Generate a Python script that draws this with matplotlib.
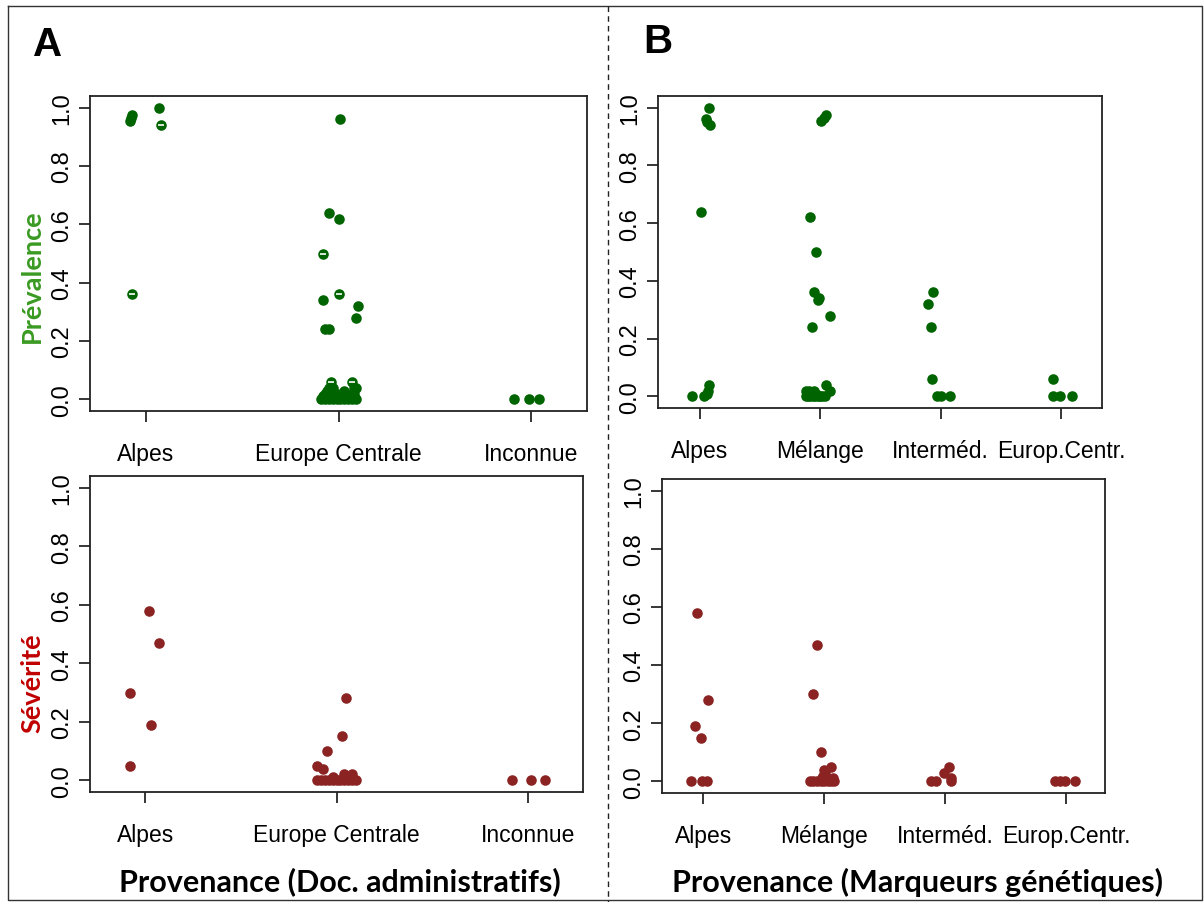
import matplotlib.pyplot as plt
from matplotlib.lines import Line2D

W, H = 1204, 903

# categories
admin_cats = ['Alpes', 'Europe Centrale', 'Inconnue']
genet_cats = ['Alpes', 'Mélange', 'Interméd.', 'Europ.Centr.']

# A - prevalence (doc. administratifs): jittered x position, value
admin_prev_x = [0.92, 0.925, 0.93, 1.07, 1.08, 0.93,
                2.01, 1.95, 2.0, 1.92, 2.0, 1.92, 2.1, 2.09, 1.93, 1.95, 1.96, 2.07, 2.08,
                1.91, 1.93, 1.95, 1.97, 1.99, 2.01, 2.03, 2.05, 2.07, 2.09,
                1.92, 1.96, 2.02, 2.06, 1.93, 1.99, 2.04, 2.08, 1.94, 2.03, 1.95, 1.97, 2.09,
                2.91, 2.99, 3.04]
admin_prev_y = [0.955, 0.965, 0.975, 1.0, 0.94, 0.36,
                0.96, 0.64, 0.62, 0.50, 0.36, 0.34, 0.32, 0.28, 0.24, 0.24, 0.06, 0.06, 0.04,
                0, 0, 0, 0, 0, 0, 0, 0, 0, 0,
                0.01, 0.01, 0.01, 0.01, 0.02, 0.02, 0.02, 0.02, 0.03, 0.03, 0.04, 0.04, 0.04,
                0, 0, 0]
# points showing a white dash in the original
admin_prev_dash_x = [1.08, 0.93, 1.92, 2.0, 1.96, 2.07]
admin_prev_dash_y = [0.94, 0.36, 0.50, 0.36, 0.06, 0.06]

# A - severite
admin_sev_x = [1.02, 1.07, 0.92, 1.03, 0.92,
               2.05, 2.03, 1.95, 1.90, 1.93, 2.04, 2.08, 2.08, 1.98,
               1.90, 1.92, 1.94, 1.96, 1.98, 2.00, 2.02, 2.04, 2.06, 2.08, 2.10,
               2.92, 3.02, 3.09]
admin_sev_y = [0.58, 0.47, 0.30, 0.19, 0.05,
               0.28, 0.15, 0.10, 0.05, 0.04, 0.02, 0.02, 0.01, 0.01,
               0, 0, 0, 0, 0, 0, 0, 0, 0, 0, 0,
               0, 0, 0]

# B - prevalence (marqueurs genetiques)
genet_prev_x = [1.08, 1.055, 1.06, 1.09, 1.01, 1.075, 1.07, 1.06, 1.04, 0.94,
                2.01, 2.03, 2.05, 1.92, 1.97, 1.95, 1.99, 1.98, 2.08, 1.93, 2.05, 2.08,
                1.88, 1.90, 1.92, 1.94, 1.96, 1.98, 2.00, 2.02, 2.04,
                1.89, 1.93, 1.97, 1.88, 1.91, 1.95,
                2.94, 2.90, 2.92, 2.93, 2.97, 3.0, 3.08,
                3.93, 3.93, 3.99, 4.09]
genet_prev_y = [1.0, 0.962, 0.95, 0.938, 0.64, 0.04, 0.02, 0.01, 0, 0,
                0.955, 0.965, 0.975, 0.62, 0.50, 0.36, 0.34, 0.335, 0.28, 0.24, 0.04, 0.02,
                0, 0, 0, 0, 0, 0, 0, 0, 0,
                0.01, 0.01, 0.01, 0.02, 0.02, 0.02,
                0.36, 0.32, 0.24, 0.06, 0, 0, 0,
                0.06, 0, 0, 0]

# B - severite
genet_sev_x = [0.95, 1.04, 0.93, 0.98, 0.90, 0.99, 1.03,
               1.94, 1.91, 1.97, 2.06, 2.0, 2.01, 1.99, 1.98, 2.07,
               1.88, 1.91, 1.94, 1.97, 2.0, 2.03, 2.06, 2.08,
               3.03, 2.99, 3.05, 2.88, 2.92, 3.05,
               3.91, 3.95, 3.99, 4.07]
genet_sev_y = [0.58, 0.28, 0.19, 0.15, 0, 0, 0,
               0.47, 0.30, 0.10, 0.05, 0.04, 0.03, 0.02, 0.01, 0.01,
               0, 0, 0, 0, 0, 0, 0, 0,
               0.05, 0.03, 0.01, 0, 0, 0,
               0, 0, 0, 0]

green = '#006400'
red = '#8b2323'
yticks = [0.0, 0.2, 0.4, 0.6, 0.8, 1.0]

fig = plt.figure(figsize=(W / 100, H / 100), dpi=100)


def box(x0, y0, x1, y1):
    # pixel box -> figure fraction
    return [x0 / W, 1 - y1 / H, (x1 - x0) / W, (y1 - y0) / H]


def panel(rect, xs, ys, cats, color, xlim):
    ax = fig.add_axes(box(*rect))
    ax.plot(xs, ys, 'o', color=color, markersize=7.6, markeredgewidth=0)
    ax.set_xlim(*xlim)
    ax.set_ylim(-0.04, 1.04)
    ax.set_xticks(range(1, len(cats) + 1))
    ax.set_xticklabels(cats, fontsize=16.5, family='Liberation Sans')
    ax.set_yticks(yticks)
    ax.set_yticklabels(['%.1f' % t for t in yticks], fontsize=17,
                       family='Liberation Sans', rotation=90, va='center')
    ax.tick_params(axis='x', length=8, width=1.1, pad=14)
    ax.tick_params(axis='y', length=8, width=1.1, pad=4)
    for s in ax.spines.values():
        s.set_linewidth(1.3)
        s.set_color('#222222')
    return ax


ax1 = panel((90, 97, 587, 412), admin_prev_x, admin_prev_y, admin_cats, green, (0.71, 3.29))
ax1.plot(admin_prev_dash_x, admin_prev_dash_y, '_', color='white', markersize=5,
         markeredgewidth=1.2)
panel((658, 97, 1102, 409), genet_prev_x, genet_prev_y, genet_cats, green, (0.655, 4.34))
panel((90, 477, 583, 793), admin_sev_x, admin_sev_y, admin_cats, red, (0.71, 3.29))
panel((662, 480, 1105, 794), genet_sev_x, genet_sev_y, genet_cats, red, (0.66, 4.32))

# frame and dashed separator
fig.add_artist(Line2D([8 / W, 1202 / W, 1202 / W, 8 / W, 8 / W],
                      [1 - 7 / H, 1 - 7 / H, 1 - 901 / H, 1 - 901 / H, 1 - 7 / H],
                      color='#333333', linewidth=1.0))
fig.add_artist(Line2D([608 / W, 608 / W], [1 - 7 / H, 0], color='#222222',
                      linewidth=1.0, linestyle=(0, (4, 3))))

# panel letters
fig.text(48 / W, 1 - 45 / H, 'A', fontsize=29, fontweight='bold',
         family='Liberation Sans', ha='center', va='center')
fig.text(658 / W, 1 - 42 / H, 'B', fontsize=29, fontweight='bold',
         family='Liberation Sans', ha='center', va='center')

# row labels
fig.text(32 / W, 1 - 276 / H, 'Prévalence', color='#3a9a22', fontsize=19.5,
         fontweight='bold', family='Lato', rotation=90, ha='center', va='center')
fig.text(32 / W, 1 - 683 / H, 'Sévérité', color='#c00000', fontsize=19.5,
         fontweight='bold', family='Lato', rotation=90, ha='center', va='center')

# bottom labels
fig.text(340 / W, 1 - 882 / H, 'Provenance (Doc. administratifs)', fontsize=22,
         fontweight='bold', family='Lato', ha='center', va='center')
fig.text(917 / W, 1 - 882 / H, 'Provenance (Marqueurs génétiques)', fontsize=22,
         fontweight='bold', family='Lato', ha='center', va='center')

fig.savefig('out.png', dpi=100, facecolor='white')
